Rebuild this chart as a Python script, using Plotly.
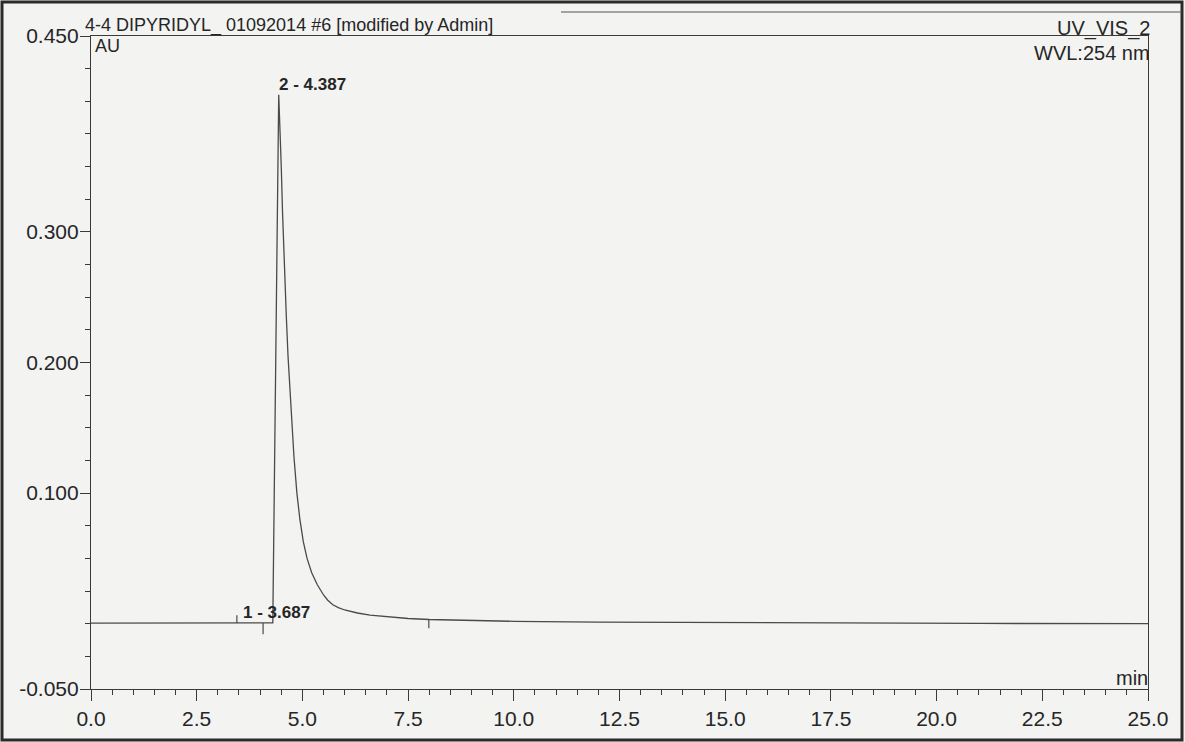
import plotly.graph_objects as go

# ---- data (time in min, signal in AU) ----
time_min = [0.0, 1.0, 2.0, 3.0, 3.45, 4.0, 4.30, 4.44, 4.47, 4.50, 4.53, 4.56, 4.59,
            4.62, 4.66, 4.70, 4.75, 4.80, 4.87, 4.94, 5.02, 5.11, 5.22, 5.35, 5.50,
            5.60, 5.72, 5.85, 6.00, 6.15, 6.30, 6.60, 7.00, 7.50, 8.00, 9.0, 10.0,
            12.0, 15.0, 18.0, 21.0, 25.0]
signal_au = [0.0005, 0.0005, 0.0005, 0.0005, 0.0006, 0.0005, 0.0006, 0.405, 0.383,
             0.350, 0.315, 0.285, 0.258, 0.235, 0.205, 0.180, 0.152, 0.128, 0.100,
             0.080, 0.063, 0.050, 0.039, 0.030, 0.022, 0.018, 0.0145, 0.0123, 0.0105,
             0.0092, 0.0082, 0.0066, 0.0052, 0.0040, 0.0032, 0.0024, 0.0018, 0.0012,
             0.0007, 0.0004, 0.0002, 0.0]

# peak labels
peak_times = [3.687, 4.44]
peak_heights = [0.0005, 0.405]
peak_labels = ["1 - 3.687", "2 - 4.387"]

# integration delimiter marks (time, from, to)
delim_times = [3.45, 4.07, 7.99]
delim_from = [0.0005, 0.0005, 0.0032]
delim_to = [0.0065, -0.0080, -0.0035]

# axis ticks
y_major = [0.45, 0.30, 0.20, 0.10, -0.05]
y_major_text = ["0.450", "0.300", "0.200", "0.100", "-0.050"]
y_minor = [0.425, 0.40, 0.375, 0.35, 0.325, 0.275, 0.25, 0.225, 0.175, 0.15, 0.125,
           0.075, 0.05, 0.025, 0.0, -0.025]
x_major = [0.0, 2.5, 5.0, 7.5, 10.0, 12.5, 15.0, 17.5, 20.0, 22.5, 25.0]
x_major_text = ["0.0", "2.5", "5.0", "7.5", "10.0", "12.5", "15.0", "17.5", "20.0", "22.5", "25.0"]

INK = "#3a3a3a"
TXT = "#262626"
FONT = "Arial, Liberation Sans, sans-serif"

fig = go.Figure()
fig.add_trace(go.Scatter(x=time_min, y=signal_au, mode="lines",
                         line=dict(color="#4a4a4a", width=1.3),
                         hoverinfo="skip", showlegend=False))

dx, dy = [], []
for t, a, b in zip(delim_times, delim_from, delim_to):
    dx += [t, t, None]
    dy += [a, b, None]
fig.add_trace(go.Scatter(x=dx, y=dy, mode="lines", line=dict(color="#4a4a4a", width=1.2),
                         hoverinfo="skip", showlegend=False))

shifts = [-6, -2]
for t, h, lab, sh in zip(peak_times, peak_heights, peak_labels, shifts):
    fig.add_annotation(x=t, y=h, xref="x", yref="y", text="<b>%s</b>" % lab,
                       showarrow=False, xanchor="left", yanchor="bottom",
                       xshift=sh, yshift=-1,
                       font=dict(family=FONT, size=17, color=TXT))

# header / unit texts
fig.add_annotation(x=0, y=1, xref="paper", yref="paper",
                   text="4-4 DIPYRIDYL_ 01092014 #6 [modified by Admin]",
                   showarrow=False, xanchor="left", yanchor="bottom", xshift=-8, yshift=-2,
                   font=dict(family=FONT, size=18, color=TXT))
fig.add_annotation(x=0, y=1, xref="paper", yref="paper", text="AU",
                   showarrow=False, xanchor="left", yanchor="top", xshift=2, yshift=2,
                   font=dict(family=FONT, size=18, color=TXT))
fig.add_annotation(x=1, y=1, xref="paper", yref="paper", text="UV_VIS_2",
                   showarrow=False, xanchor="right", yanchor="bottom", xshift=4, yshift=-6,
                   font=dict(family=FONT, size=20, color=TXT))
fig.add_annotation(x=1, y=1, xref="paper", yref="paper", text="WVL:254 nm",
                   showarrow=False, xanchor="right", yanchor="top", xshift=4, yshift=-4,
                   font=dict(family=FONT, size=20, color=TXT))
fig.add_annotation(x=1, y=0, xref="paper", yref="paper", text="min",
                   showarrow=False, xanchor="right", yanchor="bottom", xshift=2, yshift=-2,
                   font=dict(family=FONT, size=20, color=TXT))

# scanned page frame
fig.add_shape(type="rect", xref="paper", yref="paper",
              x0=-89 / 1057, x1=1091 / 1057, y0=-51 / 653, y1=687 / 653,
              line=dict(color="#2b2b2b", width=3))
fig.add_shape(type="line", xref="paper", yref="paper",
              x0=470 / 1057, x1=1091 / 1057, y0=677 / 653, y1=677 / 653,
              line=dict(color="#555555", width=1.2))

fig.update_layout(
    width=1185, height=742,
    margin=dict(l=91, r=37, t=36, b=53),
    paper_bgcolor="#f3f3f2", plot_bgcolor="#f3f3f2",
    font=dict(family=FONT, color=TXT),
    showlegend=False,
)
fig.update_xaxes(range=[0, 25], showgrid=False, zeroline=False,
                 showline=True, linecolor=INK, linewidth=1.2, mirror=True,
                 tickmode="array", tickvals=x_major, ticktext=x_major_text,
                 ticks="outside", ticklen=11, tickcolor=INK, tickwidth=1.2,
                 tickfont=dict(family=FONT, size=21, color=TXT),
                 minor=dict(tickmode="linear", tick0=0, dtick=0.5, ticks="outside",
                            ticklen=5, tickcolor=INK, tickwidth=1))
fig.update_yaxes(range=[-0.05, 0.45], showgrid=False, zeroline=False,
                 showline=True, linecolor=INK, linewidth=1.2, mirror=True,
                 tickmode="array", tickvals=y_major, ticktext=y_major_text,
                 ticks="outside", ticklen=10, tickcolor=INK, tickwidth=1.2,
                 ticklabelstandoff=-3,
                 tickfont=dict(family=FONT, size=21, color=TXT),
                 minor=dict(tickmode="array", tickvals=y_minor, ticks="outside",
                            ticklen=5, tickcolor=INK, tickwidth=1))

fig.write_html("out.html", config={"displayModeBar": False},
               post_script="document.body.style.margin='0';document.body.style.overflow='hidden';")
